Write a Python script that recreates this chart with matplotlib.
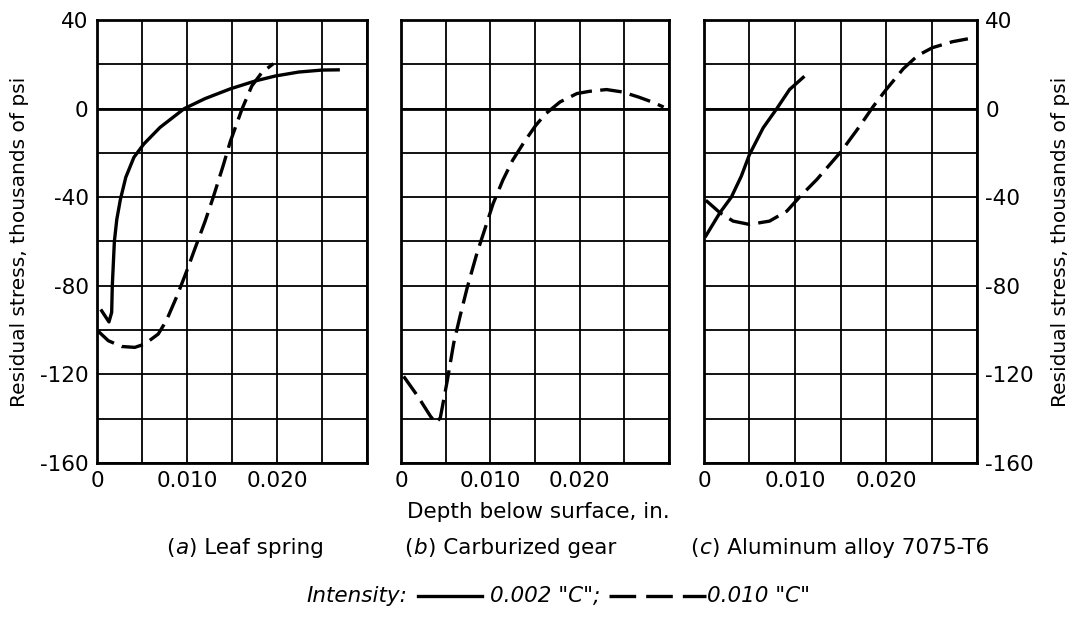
import matplotlib
matplotlib.use("Agg")
import matplotlib.pyplot as plt
from matplotlib.lines import Line2D

plt.rcParams['font.family'] = ['DejaVu Sans']

# ---------------- data ----------------
x_ticks_grid = [0, 0.005, 0.010, 0.015, 0.020, 0.025, 0.030]
x_tick_labels = ["0", "", "0.010", "", "0.020", "", ""]
y_ticks_grid = [40, 20, 0, -20, -40, -60, -80, -100, -120, -140, -160]
y_tick_labels = ["40", "", "0", "", "-40", "", "-80", "", "-120", "", "-160"]

# (a) Leaf spring
a_solid_x = [0.00052, 0.00133, 0.00163, 0.0017, 0.00193, 0.0022, 0.0026, 0.0032,
             0.0041, 0.0052, 0.0070, 0.0097, 0.0120, 0.0148, 0.0176, 0.0198,
             0.0224, 0.0250, 0.0268]
a_solid_y = [-91.3, -96.3, -92, -80, -60, -50, -41, -31,
             -22, -16, -8.5, 0, 4.5, 8.9, 12.5, 14.7,
             16.5, 17.4, 17.5]
a_dash_x = [0.0, 0.00126, 0.00274, 0.0042, 0.0053, 0.0068, 0.0077, 0.0089, 0.0100,
            0.0109, 0.0120, 0.0129, 0.0140, 0.0148, 0.0161, 0.0172, 0.0183, 0.0196]
a_dash_y = [-100, -104.8, -107.4, -107.8, -106.3, -101.8, -95.8, -84.5, -73,
            -63, -51, -40.2, -26, -15, -0.3, 10.2, 16.2, 20.3]

# (b) Carburized gear
b_dash_x = [0.0003, 0.0019, 0.0033, 0.0039, 0.0044, 0.0052, 0.0059, 0.0066, 0.0074,
            0.0085, 0.0096, 0.0103, 0.0114, 0.0125, 0.0138, 0.0151, 0.0162, 0.0178,
            0.0197, 0.0211, 0.0230, 0.0248, 0.0266, 0.0281, 0.0294]
b_dash_y = [-120.9, -130, -138.9, -141.9, -139.6, -122.4, -105.9, -93.9, -81,
            -65.3, -51.8, -43, -32.3, -23.3, -15, -7.5, -2.3, 3,
            6.8, 7.8, 8.6, 7.5, 5.2, 3, 0.7]

# (c) Aluminum alloy 7075-T6
c_solid_x = [0.0002, 0.00175, 0.0030, 0.0041, 0.0050, 0.0065, 0.0080, 0.0094, 0.0109]
c_solid_y = [-57.5, -47, -40, -30.5, -20.7, -8.7, 0, 8.6, 14.1]
c_dash_x = [0.0002, 0.00175, 0.0032, 0.0050, 0.0072, 0.0091, 0.0106, 0.0124, 0.0151,
            0.0171, 0.0186, 0.0200, 0.0219, 0.0235, 0.0251, 0.0273, 0.0290]
c_dash_y = [-41.4, -47, -50.8, -52.3, -50.8, -46.3, -39.5, -32, -19.2,
            -8, 1, 8.5, 18, 24, 27.5, 30.2, 31.5]

ylabel_text = "Residual stress, thousands of psi"
xlabel_text = "Depth below surface, in."
panel_letters = ["a", "b", "c"]
panel_names = ["Leaf spring", "Carburized gear", "Aluminum alloy 7075-T6"]
legend_title = "Intensity:"
legend_solid = '0.002 "C";'
legend_dash = '0.010 "C"'

# ---------------- figure ----------------
W, H = 1075, 617
fig = plt.figure(figsize=(W / 100, H / 100), dpi=100)

def box(l, r, t=20, b=463):
    return [l / W, 1 - b / H, (r - l) / W, (b - t) / H]

axes = [fig.add_axes(box(97, 367)),
        fig.add_axes(box(401, 669)),
        fig.add_axes(box(704, 977))]

DASH = (0, (6.5, 2.5))
LW = 2.4
FS = 15.5

for i, ax in enumerate(axes):
    ax.set_xlim(0, 0.030)
    ax.set_ylim(-160, 40)
    ax.set_xticks(x_ticks_grid)
    ax.set_xticklabels(x_tick_labels, fontsize=FS)
    ax.set_yticks(y_ticks_grid)
    ax.grid(True, color="black", linewidth=1.3)
    ax.axhline(0, color="black", linewidth=2.0, zorder=1)
    ax.tick_params(length=0, pad=6)
    for s in ax.spines.values():
        s.set_linewidth(2.0)
    if i == 0:
        ax.set_yticklabels(y_tick_labels, fontsize=FS)
        ax.set_ylabel(ylabel_text, fontsize=FS - 1, labelpad=8)
    elif i == 1:
        ax.set_yticklabels([""] * len(y_ticks_grid))
    else:
        ax.yaxis.tick_right()
        ax.yaxis.set_label_position("right")
        ax.set_yticklabels(y_tick_labels, fontsize=FS)
        ax.set_ylabel(ylabel_text, fontsize=FS - 1, labelpad=12, rotation=90)

axes[0].plot(a_solid_x, a_solid_y, color="black", lw=LW, solid_joinstyle="round")
axes[0].plot(a_dash_x, a_dash_y, color="black", lw=LW, linestyle=DASH)
axes[1].plot(b_dash_x, b_dash_y, color="black", lw=LW, linestyle=DASH)
axes[2].plot(c_solid_x, c_solid_y, color="black", lw=LW, solid_joinstyle="round")
axes[2].plot(c_dash_x, c_dash_y, color="black", lw=LW, linestyle=DASH)

# x label
fig.text(538 / W, 1 - 512 / H, xlabel_text, ha="center", va="center", fontsize=FS)

fig.canvas.draw()
r = fig.canvas.get_renderer()

def seq_text(x_px, y_fig, parts):
    """parts: list of (text, italic); returns right edge in pixels"""
    x = x_px
    for txt, ital in parts:
        t = fig.text(x / W, y_fig, txt, ha="left", va="center", fontsize=FS,
                     style="italic" if ital else "normal")
        bb = t.get_window_extent(r)
        x = bb.x1 + 1
    return x

# panel captions
cap_y = 1 - 548 / H
cap_x = [166, 404, 690]
for cx, letter, name in zip(cap_x, panel_letters, panel_names):
    seq_text(cx, cap_y, [("(", False), (letter, True), (") " + name, False)])

# legend line
leg_y = 1 - 596 / H
x = seq_text(306, leg_y, [(legend_title, True)])
x += 10
fig.add_artist(Line2D([x / W, (x + 64) / W], [leg_y, leg_y], color="black", lw=LW,
                      transform=fig.transFigure))
x += 72
x = seq_text(x, leg_y, [(legend_solid, True)])
x += 8
fig.add_artist(Line2D([x / W, (x + 97) / W], [leg_y, leg_y], color="black", lw=LW,
                      linestyle=(0, (8, 3)), transform=fig.transFigure))
x += 98
seq_text(x, leg_y, [(legend_dash, True)])

fig.savefig("out.png", dpi=100)
